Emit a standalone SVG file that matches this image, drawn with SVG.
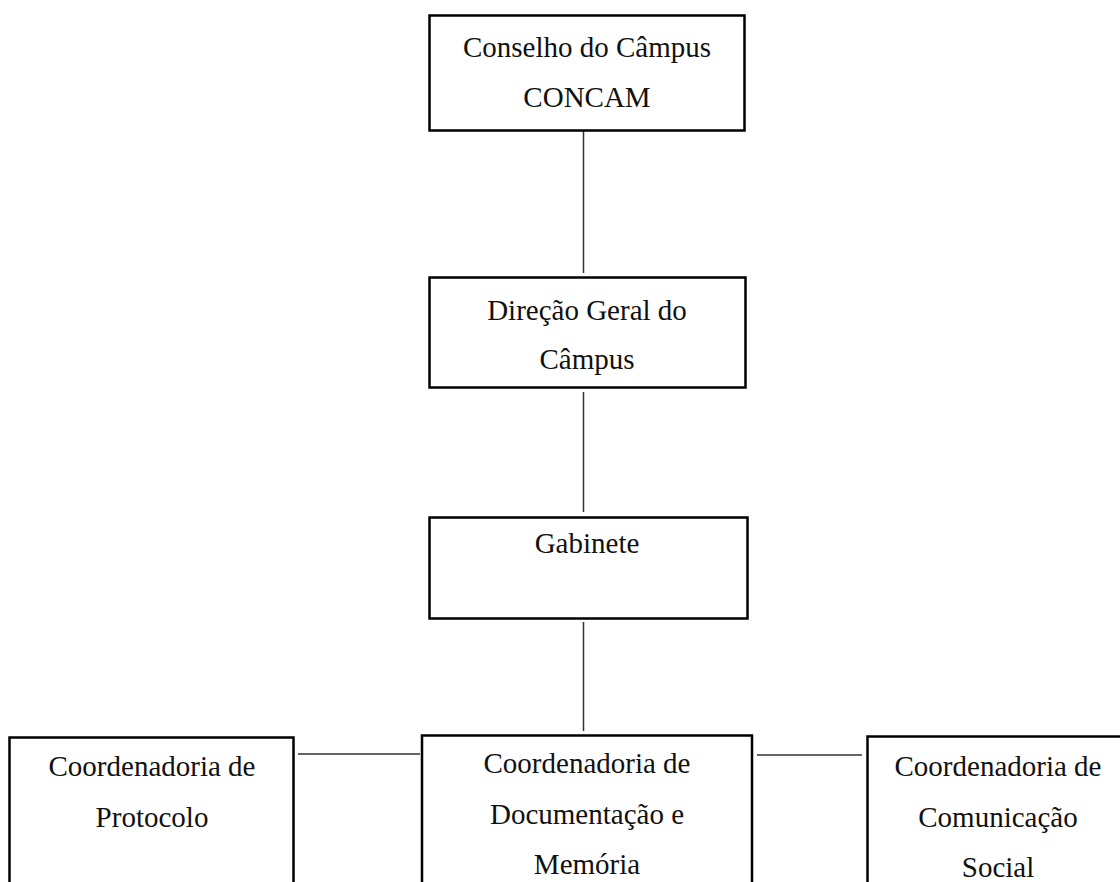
<svg xmlns="http://www.w3.org/2000/svg" width="1120" height="882" viewBox="0 0 1120 882">
<style>
.box{fill:#fff;stroke:#000;stroke-width:2.5}
.ln{stroke:#333;stroke-width:1.5;fill:none}
text{font-family:"Liberation Serif","Times New Roman",serif;font-size:29px;fill:#111;text-anchor:middle}
</style>
<rect width="1120" height="882" fill="#fff"/>
<g id="connectors">
<line class="ln" x1="583.5" y1="131" x2="583.5" y2="273"/>
<line class="ln" x1="583.5" y1="392" x2="583.5" y2="512"/>
<line class="ln" x1="583.5" y1="622" x2="583.5" y2="731"/>
<line class="ln" x1="298" y1="754" x2="420" y2="754"/>
<line class="ln" x1="757" y1="755" x2="862" y2="755"/>
</g>
<g id="concam">
<rect class="box" x="429.5" y="15.5" width="315" height="115"/>
<text x="587" y="57">Conselho do Câmpus</text>
<text x="587" y="107">CONCAM</text>
</g>
<g id="direcao">
<rect class="box" x="429.5" y="277.5" width="316" height="110"/>
<text x="587" y="320">Direção Geral do</text>
<text x="587" y="369">Câmpus</text>
</g>
<g id="gabinete">
<rect class="box" x="429.5" y="517.5" width="318" height="101"/>
<text x="587" y="553">Gabinete</text>
</g>
<g id="protocolo">
<rect class="box" x="9.5" y="737.5" width="284" height="160"/>
<text x="152" y="776">Coordenadoria de</text>
<text x="152" y="827">Protocolo</text>
</g>
<g id="documentacao">
<rect class="box" x="422" y="735.5" width="330" height="160"/>
<text x="587" y="773">Coordenadoria de</text>
<text x="587" y="824">Documentação e</text>
<text x="587" y="874">Memória</text>
</g>
<g id="comunicacao">
<rect class="box" x="867.5" y="736.5" width="270" height="160"/>
<text x="998" y="776">Coordenadoria de</text>
<text x="998" y="827">Comunicação</text>
<text x="998" y="877">Social</text>
</g>
</svg>
